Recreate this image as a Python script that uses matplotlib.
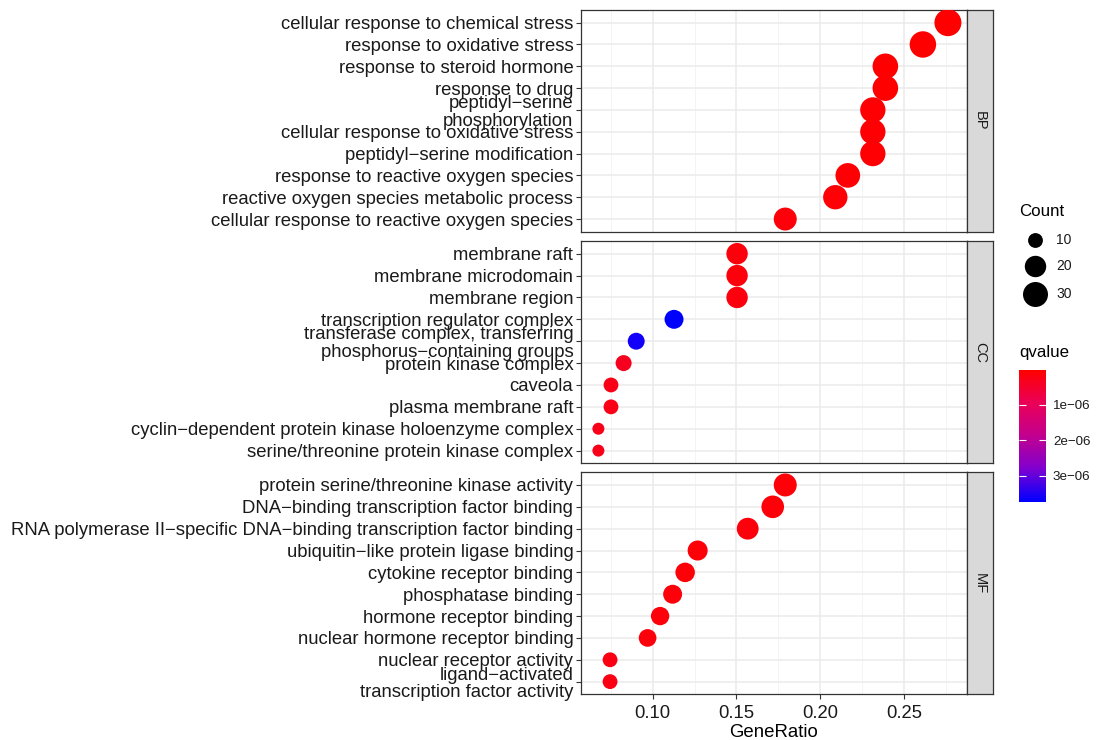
import numpy as np
import matplotlib
matplotlib.use("Agg")
import matplotlib.pyplot as plt
from matplotlib.colors import LinearSegmentedColormap, Normalize
from matplotlib.cm import ScalarMappable

plt.rcParams['font.family'] = ['Liberation Sans', 'DejaVu Sans']

# ---- data ----
bp_terms = ["cellular response to chemical stress", "response to oxidative stress",
            "response to steroid hormone", "response to drug",
            "peptidyl−serine\nphosphorylation", "cellular response to oxidative stress",
            "peptidyl−serine modification", "response to reactive oxygen species",
            "reactive oxygen species metabolic process",
            "cellular response to reactive oxygen species"]
bp_count = [37, 35, 32, 32, 31, 31, 31, 29, 28, 24]
bp_ratio = [37/134, 35/134, 32/134, 32/134, 31/134, 31/134, 31/134, 29/134, 28/134, 24/134]
bp_q = [1e-8, 1e-8, 2e-8, 3e-8, 4e-8, 4e-8, 5e-8, 5e-8, 8e-8, 1.2e-7]

cc_terms = ["membrane raft", "membrane microdomain", "membrane region",
            "transcription regulator complex",
            "transferase complex, transferring\nphosphorus−containing groups",
            "protein kinase complex", "caveola", "plasma membrane raft",
            "cyclin−dependent protein kinase holoenzyme complex",
            "serine/threonine protein kinase complex"]
cc_count = [20, 20, 20, 15, 12, 11, 10, 10, 9, 9]
cc_ratio = [20/133, 20/133, 20/133, 15/133, 12/133, 11/133, 10/133, 10/133, 9/133, 9/133]
cc_q = [1.5e-7, 1.5e-7, 1.6e-7, 3.74e-6, 3.6e-6, 3.5e-7, 2.5e-7, 2.5e-7, 3e-7, 3e-7]

mf_terms = ["protein serine/threonine kinase activity",
            "DNA−binding transcription factor binding",
            "RNA polymerase II−specific DNA−binding transcription factor binding",
            "ubiquitin−like protein ligase binding", "cytokine receptor binding",
            "phosphatase binding", "hormone receptor binding",
            "nuclear hormone receptor binding", "nuclear receptor activity",
            "ligand−activated\ntranscription factor activity"]
mf_count = [24, 23, 21, 17, 16, 15, 14, 13, 10, 10]
mf_ratio = [24/134, 23/134, 21/134, 17/134, 16/134, 15/134, 14/134, 13/134, 10/134, 10/134]
mf_q = [1e-7, 1e-7, 1.5e-7, 1e-7, 1e-7, 1.2e-7, 1.2e-7, 1.5e-7, 2e-7, 2e-7]

facets = ["BP", "CC", "MF"]
q_min, q_max = 1e-8, 3.74e-6
count_min, count_max = 9, 37
legend_counts = [10, 20, 30]
cbar_ticks = [1e-6, 2e-6, 3e-6]
cbar_labels = ["1e−06", "2e−06", "3e−06"]

cmap = LinearSegmentedColormap.from_list(
    "rb", [(0, "#FF0000"), (0.25, "#EA0058"), (0.5, "#C2008F"),
           (0.75, "#8000D0"), (1, "#0000FF")])
norm = Normalize(q_min, q_max)


def marker_size(c):
    # diameter in px -> points^2
    d = 12 + 15 * np.sqrt((np.asarray(c, float) - count_min) / (count_max - count_min))
    return (d * 0.72) ** 2


W, H = 1096, 740
fig = plt.figure(figsize=(W / 100, H / 100), dpi=100)


def fbox(x0, y0, x1, y1):
    return [x0 / W, 1 - y1 / H, (x1 - x0) / W, (y1 - y0) / H]


panels = [(10, 231.7), (241, 463.3), (472.3, 694.3)]
data = [(bp_terms, bp_ratio, bp_count, bp_q),
        (cc_terms, cc_ratio, cc_count, cc_q),
        (mf_terms, mf_ratio, mf_count, mf_q)]

for i, ((top, bot), (terms, ratio, count, q)) in enumerate(zip(panels, data)):
    ax = fig.add_axes(fbox(581, top, 967, bot))
    n = len(terms)
    y = np.arange(n)
    ax.scatter(ratio, y, s=marker_size(count), c=q, cmap=cmap, norm=norm,
               linewidths=0, zorder=3)
    ax.set_xlim(0.0573, 0.2875)
    ax.set_ylim(n - 1 + 0.58, -0.58)
    ax.set_yticks(y)
    ax.set_yticklabels(terms, fontsize=13.3, color="#1A1A1A", linespacing=1.05)
    ax.set_xticks([0.10, 0.15, 0.20, 0.25])
    ax.set_xticks([0.075, 0.125, 0.175, 0.225, 0.275], minor=True)
    ax.grid(True, which="major", color="#EBEBEB", lw=1.1, zorder=0)
    ax.grid(True, which="minor", axis="x", color="#F2F2F2", lw=0.6, zorder=0)
    ax.tick_params(which="minor", length=0)
    ax.tick_params(which="major", length=3.5, width=0.8, color="#333333", pad=2)
    for sp in ax.spines.values():
        sp.set_color("#333333")
        sp.set_linewidth(0.9)
    if i < 2:
        ax.tick_params(axis="x", labelbottom=False, length=0)
    else:
        ax.tick_params(axis="x", pad=4)
        ax.set_xticklabels(["0.10", "0.15", "0.20", "0.25"], fontsize=13.3, color="#1A1A1A")
        ax.set_xlabel("GeneRatio", fontsize=13.4, labelpad=2)
    ax.set_axisbelow(True)

    # facet strip
    sx = fig.add_axes(fbox(967, top, 993, bot))
    sx.set_facecolor("#D9D9D9")
    sx.set_xticks([])
    sx.set_yticks([])
    for sp in sx.spines.values():
        sp.set_color("#333333")
        sp.set_linewidth(0.9)
    sx.text(0.5, 0.5, facets[i], rotation=-90, ha="center", va="center",
            fontsize=10.5, color="#1A1A1A", transform=sx.transAxes)

# ---- legends ----
lg = fig.add_axes([0, 0, 1, 1], facecolor="none")
lg.set_xlim(0, W)
lg.set_ylim(H, 0)
lg.axis("off")
lg.text(1019, 211, "Count", fontsize=12.2, va="center", ha="left")
for c, yy in zip(legend_counts, [240, 266, 294]):
    lg.scatter([1035], [yy], s=marker_size(c), color="black", linewidths=0)
    lg.text(1056, yy, str(c), fontsize=10, va="center", ha="left", color="#1A1A1A")
lg.text(1019, 353, "qvalue", fontsize=12.2, va="center", ha="left")

cax = fig.add_axes(fbox(1019, 370, 1046, 501.7))
sm = ScalarMappable(norm=norm, cmap=cmap)
cb = fig.colorbar(sm, cax=cax)
cb.outline.set_visible(False)
cax.invert_yaxis()
cb.set_ticks(cbar_ticks)
cb.set_ticklabels(cbar_labels)
cax.tick_params(which="both", direction="in", length=5, width=0.8, colors="white",
                labelcolor="#1A1A1A", labelsize=9.6, left=True, right=True, pad=5)
cax.minorticks_off()

fig.savefig("out.png", dpi=100)
